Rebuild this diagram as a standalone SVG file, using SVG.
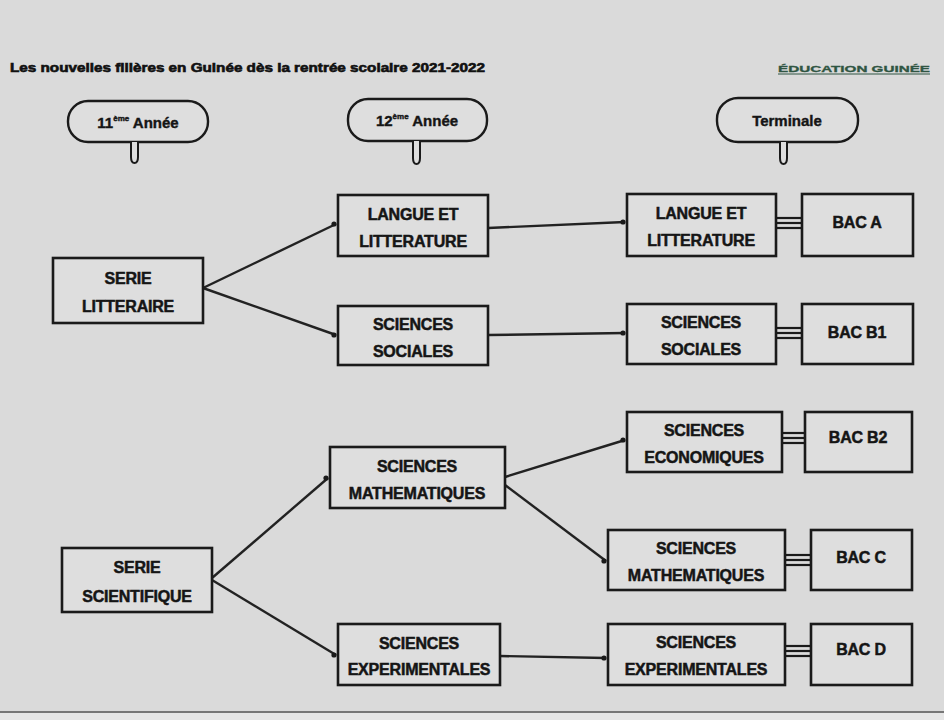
<svg xmlns="http://www.w3.org/2000/svg" width="944" height="720" viewBox="0 0 944 720">
<defs>
<marker id="dot" viewBox="0 0 6 6" refX="5" refY="3" markerWidth="6" markerHeight="6" markerUnits="userSpaceOnUse">
<circle cx="3" cy="3" r="2.6" fill="#1a1a1a"/>
</marker>
<style>
.box{fill:#dedede;stroke:#1a1a1a;stroke-width:2.6}
.pill{fill:#dedede;stroke:#1a1a1a;stroke-width:2.4}
.t{font-family:"Liberation Sans",Arial,sans-serif;font-weight:bold;font-size:16px;fill:#151515;stroke:#151515;stroke-width:0.5;text-anchor:middle;letter-spacing:-0.2px}
.p{font-family:"Liberation Sans",Arial,sans-serif;font-weight:bold;font-size:15px;fill:#151515;stroke:#151515;stroke-width:0.4;text-anchor:middle}
.c{stroke:#222;stroke-width:2.4;fill:none}
.tri{stroke:#1a1a1a;stroke-width:2.2}
.dn{fill:#dedede;stroke:#1a1a1a;stroke-width:2}
</style>
</defs>
<rect width="944" height="720" fill="#dadada"/>
<rect y="712" width="944" height="8" fill="#e6e6e6"/>
<line x1="0" y1="712" x2="944" y2="712" stroke="#777" stroke-width="2"/>

<g id="title">
<text x="10" y="72" font-family="Liberation Sans,Arial,sans-serif" font-weight="bold" font-size="12" fill="#111" stroke="#111" stroke-width="0.6" textLength="475" lengthAdjust="spacingAndGlyphs">Les nouvelles filières en Guinée dès la rentrée scolaire 2021-2022</text>
<text x="778" y="72" font-family="Liberation Sans,Arial,sans-serif" font-weight="bold" font-size="9" fill="#2f5542" stroke="#2f5542" stroke-width="0.3" textLength="152" lengthAdjust="spacingAndGlyphs">ÉDUCATION GUINÉE</text>
<line x1="778" y1="74" x2="930" y2="74" stroke="#2f5542" stroke-width="1"/>
</g>

<g id="pill-11">
<rect class="pill" x="68" y="101" width="140" height="41" rx="20"/>
<text class="p" x="138" y="128">11<tspan font-size="8" dy="-7">ème</tspan><tspan dy="7"> Année</tspan></text>
<path class="dn" d="M131,142 V157 Q131,163 134.5,163 Q138,163 138,157 V142"/>
</g>
<g id="pill-12">
<rect class="pill" x="348" y="99" width="139" height="42" rx="20"/>
<text class="p" x="417" y="126">12<tspan font-size="8" dy="-7">ème</tspan><tspan dy="7"> Année</tspan></text>
<path class="dn" d="M413,141 V158 Q413,164 416.5,164 Q420,164 420,158 V141"/>
</g>
<g id="pill-terminale">
<rect class="pill" x="717" y="98" width="141" height="44" rx="21"/>
<text class="p" x="787" y="126">Terminale</text>
<path class="dn" d="M780,142 V158 Q780,164 783.5,164 Q787,164 787,158 V142"/>
</g>

<g id="connectors">
<line class="c" x1="203" y1="288" x2="336" y2="224" marker-end="url(#dot)"/>
<line class="c" x1="203" y1="288" x2="336" y2="335" marker-end="url(#dot)"/>
<line class="c" x1="488" y1="228" x2="625" y2="222" marker-end="url(#dot)"/>
<line class="c" x1="488" y1="335" x2="625" y2="333" marker-end="url(#dot)"/>
<line class="c" x1="212" y1="578" x2="328" y2="478" marker-end="url(#dot)"/>
<line class="c" x1="212" y1="580" x2="336" y2="655" marker-end="url(#dot)"/>
<line class="c" x1="505" y1="477" x2="625" y2="440" marker-end="url(#dot)"/>
<line class="c" x1="505" y1="485" x2="606" y2="561" marker-end="url(#dot)"/>
<line class="c" x1="500" y1="656" x2="606" y2="658" marker-end="url(#dot)"/>
<g class="tri">
<line x1="776" y1="218" x2="802" y2="218"/><line x1="776" y1="223" x2="802" y2="223"/><line x1="776" y1="228" x2="802" y2="228"/>
<line x1="776" y1="328" x2="802" y2="328"/><line x1="776" y1="333" x2="802" y2="333"/><line x1="776" y1="338" x2="802" y2="338"/>
<line x1="782" y1="433" x2="805" y2="433"/><line x1="782" y1="438" x2="805" y2="438"/><line x1="782" y1="443" x2="805" y2="443"/>
<line x1="785" y1="555" x2="811" y2="555"/><line x1="785" y1="560" x2="811" y2="560"/><line x1="785" y1="565" x2="811" y2="565"/>
<line x1="785" y1="646" x2="811" y2="646"/><line x1="785" y1="651" x2="811" y2="651"/><line x1="785" y1="656" x2="811" y2="656"/>
</g>
</g>

<g id="serie-litteraire">
<rect class="box" x="53" y="258" width="150" height="65"/>
<text class="t" x="128" y="284">SERIE</text>
<text class="t" x="128" y="312">LITTERAIRE</text>
</g>
<g id="langue-12">
<rect class="box" x="338" y="195" width="150" height="61"/>
<text class="t" x="413" y="220">LANGUE ET</text>
<text class="t" x="413" y="247">LITTERATURE</text>
</g>
<g id="sociales-12">
<rect class="box" x="338" y="306" width="150" height="59"/>
<text class="t" x="413" y="330">SCIENCES</text>
<text class="t" x="413" y="357">SOCIALES</text>
</g>
<g id="langue-t">
<rect class="box" x="627" y="194" width="149" height="62"/>
<text class="t" x="701" y="219">LANGUE ET</text>
<text class="t" x="701" y="246">LITTERATURE</text>
</g>
<g id="bac-a">
<rect class="box" x="802" y="194" width="111" height="62"/>
<text class="t" x="857" y="228">BAC A</text>
</g>
<g id="sociales-t">
<rect class="box" x="627" y="304" width="149" height="60"/>
<text class="t" x="701" y="328">SCIENCES</text>
<text class="t" x="701" y="355">SOCIALES</text>
</g>
<g id="bac-b1">
<rect class="box" x="802" y="304" width="111" height="60"/>
<text class="t" x="857" y="338">BAC B1</text>
</g>
<g id="economiques-t">
<rect class="box" x="627" y="412" width="155" height="60"/>
<text class="t" x="704" y="436">SCIENCES</text>
<text class="t" x="704" y="463">ECONOMIQUES</text>
</g>
<g id="bac-b2">
<rect class="box" x="805" y="412" width="107" height="60"/>
<text class="t" x="858" y="443">BAC B2</text>
</g>
<g id="mathematiques-12">
<rect class="box" x="330" y="447" width="175" height="61"/>
<text class="t" x="417" y="472">SCIENCES</text>
<text class="t" x="417" y="499">MATHEMATIQUES</text>
</g>
<g id="serie-scientifique">
<rect class="box" x="62" y="548" width="150" height="64"/>
<text class="t" x="137" y="573">SERIE</text>
<text class="t" x="137" y="602">SCIENTIFIQUE</text>
</g>
<g id="experimentales-12">
<rect class="box" x="338" y="624" width="162" height="61"/>
<text class="t" x="419" y="649">SCIENCES</text>
<text class="t" x="419" y="675">EXPERIMENTALES</text>
</g>
<g id="mathematiques-t">
<rect class="box" x="608" y="530" width="177" height="60"/>
<text class="t" x="696" y="554">SCIENCES</text>
<text class="t" x="696" y="581">MATHEMATIQUES</text>
</g>
<g id="bac-c">
<rect class="box" x="811" y="530" width="101" height="60"/>
<text class="t" x="861" y="563">BAC C</text>
</g>
<g id="experimentales-t">
<rect class="box" x="608" y="624" width="177" height="61"/>
<text class="t" x="696" y="648">SCIENCES</text>
<text class="t" x="696" y="675">EXPERIMENTALES</text>
</g>
<g id="bac-d">
<rect class="box" x="811" y="624" width="101" height="61"/>
<text class="t" x="861" y="655">BAC D</text>
</g>
</svg>
